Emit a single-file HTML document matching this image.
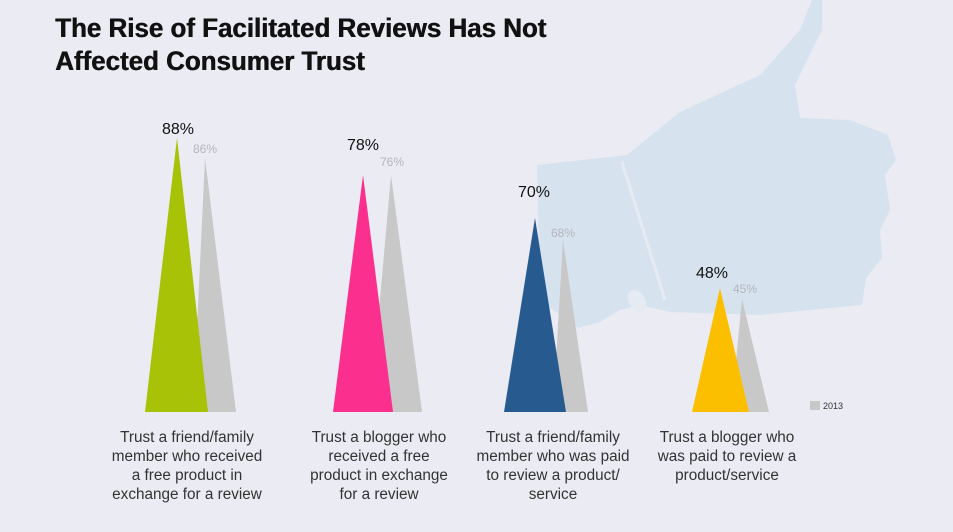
<!DOCTYPE html>
<html><head><meta charset="utf-8"><style>
body{margin:0;width:953px;height:532px;background:#ebebf4;overflow:hidden;position:relative;font-family:"Liberation Sans",sans-serif}
.t{position:absolute;left:55px;top:12px;font-family:"Liberation Sans",sans-serif;font-weight:bold;font-size:27px;line-height:33px;color:#111;transform:scaleX(0.96);transform-origin:left;text-shadow:0.6px 0 0 #111;white-space:nowrap}
.l{position:absolute;top:428px;width:200px;text-align:center;font-size:15.3px;line-height:19px;color:#333}
</style></head><body>
<svg width="953" height="532" style="position:absolute;left:0;top:0">
<path d="M537,165 L627,155 L680,112 L760,75 L800,30 L812,0 L822,0 L822,30 L795,85 L800,118 L850,120 L888,135 L896,160 L885,175 L890,210 L880,230 L882,258 L866,278 L862,305 L760,315 L670,312 L640,305 L620,310 L600,322 L578,328 L560,315 L540,300 Z" fill="#d6e3ef"/>
<path d="M622,162 L665,300" stroke="#e6ebf3" stroke-width="3" fill="none"/>
<ellipse cx="637" cy="301" rx="8" ry="12" fill="#e6ebf3" transform="rotate(-30 637 301)"/>
<polygon points="193,412 236,412 205,158" fill="#c8c8c8"/>
<polygon points="145,412 208,412 177,138" fill="#a8c208"/>
<polygon points="370,412 422,412 391,175" fill="#c8c8c8"/>
<polygon points="333,412 393,412 363,175" fill="#fb2f8e"/>
<polygon points="553,412 588,412 563,240" fill="#c8c8c8"/>
<polygon points="504,412 566,412 535,218" fill="#275b90"/>
<polygon points="731,412 769,412 742,299" fill="#c8c8c8"/>
<polygon points="692,412 749,412 720,288" fill="#fcbf00"/>
<rect x="810" y="401" width="10" height="9" fill="#c8c8c8"/>
<text x="823" y="409" font-size="9" fill="#333" font-family="Liberation Sans">2013</text>
<g font-family="Liberation Sans" font-size="16" fill="#111" text-anchor="middle">
<text x="178" y="134">88%</text><text x="363" y="150">78%</text><text x="534" y="197">70%</text><text x="712" y="278">48%</text></g>
<g font-family="Liberation Sans" font-size="12" fill="#b4b4bc" text-anchor="middle">
<text x="205" y="153">86%</text><text x="392" y="166">76%</text><text x="563" y="237">68%</text><text x="745" y="293">45%</text></g>
</svg>
<div class="t">The Rise of Facilitated Reviews Has Not<br>Affected Consumer Trust</div>
<div class="l" style="left:87px">Trust a friend/family<br>member who received<br>a free product in<br>exchange for a review</div>
<div class="l" style="left:279px">Trust a blogger who<br>received a free<br>product in exchange<br>for a review</div>
<div class="l" style="left:453px">Trust a friend/family<br>member who was paid<br>to review a product/<br>service</div>
<div class="l" style="left:627px">Trust a blogger who<br>was paid to review a<br>product/service</div>
</body></html>
